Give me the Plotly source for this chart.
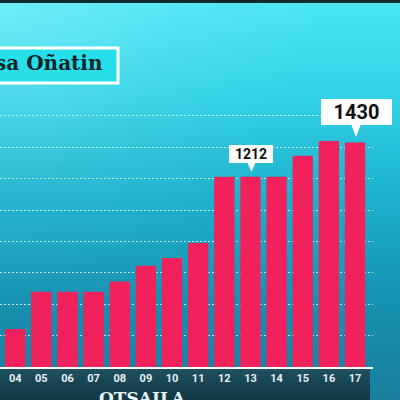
import plotly.graph_objects as go
import base64

days = ["04", "05", "06", "07", "08", "09", "10", "11", "12", "13", "14", "15", "16", "17"]
cases = [242, 480, 480, 480, 545, 645, 695, 790, 1212, 1212, 1212, 1345, 1440, 1430]
callout_days = ["13", "17"]
callout_values = [1212, 1430]
month_label = "OTSAILA"
title_text = "sa Oñatin"

W, H = 400, 400
ML, MR, MT, MB = 0, 27, 0, 33
PW, PH = W - ML - MR, H - MT - MB

fig = go.Figure()
fig.add_trace(go.Bar(x=days, y=cases, marker=dict(color="#f0215b", line=dict(width=0)),
                     hoverinfo="skip"))

# background gradient as an SVG image
svg = """<svg xmlns='http://www.w3.org/2000/svg' width='400' height='400' viewBox='0 0 400 400'>
<defs>
<linearGradient id='g' x1='0' y1='0' x2='0' y2='1'>
<stop offset='0' stop-color='#4ce6f4'/>
<stop offset='0.25' stop-color='#30d0e6'/>
<stop offset='0.5' stop-color='#1bb0cb'/>
<stop offset='0.75' stop-color='#1692b2'/>
<stop offset='1' stop-color='#1a7e9e'/>
</linearGradient>
<radialGradient id='r' cx='0' cy='0' r='1' gradientUnits='objectBoundingBox'>
<stop offset='0' stop-color='#c8fcff' stop-opacity='0.3'/>
<stop offset='0.45' stop-color='#c8fcff' stop-opacity='0.08'/>
<stop offset='0.8' stop-color='#c8fcff' stop-opacity='0'/>
</radialGradient>
</defs>
<rect width='400' height='400' fill='url(#g)'/>
<rect width='400' height='400' fill='url(#r)'/>
<rect width='400' height='3' fill='#0b2a30'/>
</svg>"""
src = "data:image/svg+xml;base64," + base64.b64encode(svg.encode()).decode()
images = [dict(source=src, xref="paper", yref="paper", x=0, y=1, xanchor="left", yanchor="top",
               sizex=W / PW, sizey=H / PH, sizing="stretch", layer="below")]

shapes = []
# axis band
band_top = (31, 82, 98)
band_bot = (17, 56, 68)
nb = 8
for k in range(nb):
    t = (k + 0.5) / nb
    c = [int(band_top[j] + (band_bot[j] - band_top[j]) * t) for j in range(3)]
    shapes.append(dict(type="rect", xref="paper", yref="paper", xsizemode="pixel", ysizemode="pixel",
                       xanchor=0, yanchor=0, x0=-5, x1=370,
                       y0=-MB * k / nb, y1=-MB * (k + 1) / nb - 0.5,
                       fillcolor="rgb(%d,%d,%d)" % tuple(c), line=dict(width=0), layer="below"))
# title box
shapes.append(dict(type="rect", xref="paper", yref="paper", xsizemode="pixel", ysizemode="pixel",
                   xanchor=0, yanchor=1, x0=-10, x1=118, y0=-48, y1=-83,
                   fillcolor="#27dfe9", line=dict(color="white", width=3), layer="above"))

annotations = [
    dict(xref="paper", yref="paper", x=105 / PW, y=(PH - 72) / PH, xanchor="right", yanchor="bottom",
         yshift=-5, text="<b>%s</b>" % title_text, showarrow=False,
         font=dict(family="DejaVu Serif", size=20, color="#0c252b")),
    dict(xref="paper", yref="paper", x=142 / PW, y=-MB / PH, xanchor="center", yanchor="bottom",
         yshift=-10, text="<b>%s</b>" % month_label, showarrow=False,
         font=dict(family="DejaVu Serif", size=17, color="#e8f4f6")),
]

box_specs = {"13": (44, 18, 14, 13.4, 5, 8), "17": (71, 26, 20, 18, 5.6, 10)}
for d, v in zip(callout_days, callout_values):
    bw, bh, fs, gap, tip, base = box_specs[d]
    xi = days.index(d)
    annotations.append(dict(x=xi, y=v, xref="x", yref="y", text="<b>%d</b>" % v, showarrow=False,
                            yanchor="bottom", yshift=gap, xshift=1, width=bw, height=bh,
                            bgcolor="white", borderpad=0, borderwidth=0, valign="middle",
                            font=dict(family="Roboto", size=fs, color="#111111")))
    shapes.append(dict(type="path", xref="x", yref="y", xsizemode="pixel", ysizemode="pixel",
                       xanchor=xi, yanchor=v,
                       path="M %.1f,%.1f L %.1f,%.1f L %.1f,%.1f Z" % (-base / 2 + 1, gap + 0.5, base / 2 + 1, gap + 0.5, 1, tip),
                       fillcolor="white", line=dict(width=0), layer="above"))

x_r0 = -15.2 / 26.14
fig.update_layout(
    width=W, height=H, margin=dict(l=ML, r=MR, t=MT, b=MB),
    paper_bgcolor="#1a8aa6", plot_bgcolor="rgba(0,0,0,0)",
    bargap=0.223, showlegend=False,
    shapes=shapes, annotations=annotations, images=images,
    xaxis=dict(type="category", range=[x_r0, x_r0 + PW / 26.14], showgrid=False, zeroline=False,
               showline=True, linecolor="white", linewidth=1.5, ticks="", ticklabelstandoff=0,
               tickfont=dict(family="Roboto", size=11, color="#e6f0f2", weight="bold"), fixedrange=True),
    yaxis=dict(range=[0, PH * 6.37], tickvals=list(range(200, 1601, 200)), showticklabels=False,
               showgrid=True, gridcolor="rgba(255,255,255,0.75)", gridwidth=1, griddash="2px,2px",
               zeroline=False, fixedrange=True),
)
fig.write_html("out.html", config={"displayModeBar": False},
               post_script="document.body.style.margin='0';document.body.style.overflow='hidden';")
